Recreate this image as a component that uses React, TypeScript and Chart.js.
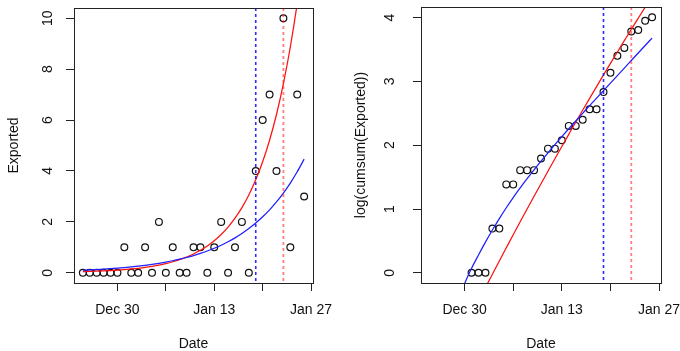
import React, { useEffect, useRef } from 'react';
import { Chart, registerables } from 'chart.js';

Chart.register(...registerables);

// ---------- data ----------
const ORIGIN = '2019-12-30';

const dates = [
  '2019-12-25', '2019-12-26', '2019-12-27', '2019-12-28', '2019-12-29', '2019-12-30',
  '2019-12-31', '2020-01-01', '2020-01-02', '2020-01-03', '2020-01-04', '2020-01-05',
  '2020-01-06', '2020-01-07', '2020-01-08', '2020-01-09', '2020-01-10', '2020-01-11',
  '2020-01-12', '2020-01-13', '2020-01-14', '2020-01-15', '2020-01-16', '2020-01-17',
  '2020-01-18', '2020-01-19', '2020-01-20', '2020-01-21', '2020-01-22', '2020-01-23',
  '2020-01-24', '2020-01-25', '2020-01-26',
];

const exported = [
  0, 0, 0, 0, 0, 0, 1, 0, 0, 1, 0, 2, 0, 1, 0, 0, 1, 1, 0, 1, 2, 0, 1, 2, 0, 4, 6, 7, 4, 10, 1, 7, 3,
];

const logCumExported = [
  null, null, null, null, null, null,
  0, 0, 0, 0.693, 0.693, 1.386, 1.386, 1.609, 1.609, 1.609, 1.792, 1.946, 1.946, 2.079,
  2.303, 2.303, 2.398, 2.565, 2.565, 2.833, 3.135, 3.401, 3.526, 3.784, 3.807, 3.951, 4.007,
];

// fitted curves (one value per date)
const fitRedLeft = [
  0.043, 0.052, 0.062, 0.074, 0.088, 0.105, 0.125, 0.150, 0.179, 0.213, 0.255, 0.304,
  0.363, 0.434, 0.518, 0.619, 0.739, 0.883, 1.054, 1.259, 1.503, 1.795, 2.144, 2.560,
  3.057, 3.651, 4.360, 5.207, 6.218, 7.426, 8.868, 10.59, 12.65,
];
const fitBlueLeft = [
  0.102, 0.115, 0.130, 0.146, 0.164, 0.185, 0.208, 0.234, 0.263, 0.296, 0.333, 0.375,
  0.422, 0.474, 0.534, 0.601, 0.676, 0.760, 0.856, 0.963, 1.083, 1.219, 1.372, 1.543,
  1.737, 1.954, 2.199, 2.474, 2.784, 3.133, 3.525, 3.967, 4.464,
];
const fitRedRight = [
  null, null, null, null, null, null, null, null,
  -0.231, -0.022, 0.186, 0.392, 0.597, 0.799, 1.0, 1.199, 1.397, 1.593, 1.787, 1.98,
  2.171, 2.361, 2.548, 2.734, 2.919, 3.102, 3.283, 3.462, 3.640, 3.817, 3.991, 4.164, 4.335,
];
const fitBlueRight = [
  null, null, null, null, -0.45,
  -0.17, 0.07, 0.28, 0.48, 0.67, 0.85, 1.02, 1.18, 1.33, 1.475, 1.615, 1.75, 1.88, 2.008,
  2.134, 2.258, 2.38, 2.50, 2.62, 2.738, 2.856, 2.974, 3.092, 3.21, 3.328, 3.446, 3.564, 3.68,
];

const xTickDates = ['2019-12-30', '2020-01-06', '2020-01-13', '2020-01-20', '2020-01-27'];
const xTickLabels = ['Dec 30', '', 'Jan 13', '', 'Jan 27'];
const yTicksLeft = [0, 2, 4, 6, 8, 10];
const yTicksRight = [0, 1, 2, 3, 4];
const blueLineDate = '2020-01-19';
const redLineDate = '2020-01-23';

// ---------- helpers ----------
const dayMs = 86400000;
const dayOf = (s: string) =>
  (Date.parse(s + 'T00:00:00Z') - Date.parse(ORIGIN + 'T00:00:00Z')) / dayMs;

const rRange = (lo: number, hi: number) => {
  const e = (hi - lo) * 0.04;
  return [lo - e, hi + e];
};

const FONT = '"Liberation Sans", Arial, Helvetica, sans-serif';
const AXIS = '#222';
const TEXT = '#111';

const series = (vals: (number | null)[]) =>
  dates.map((d, i) => ({ x: dayOf(d), y: vals[i] }));

const alignPx = (p: number) => Math.round(p - 0.5) + 0.5;

const boxPlugin = {
  id: 'rbox',
  afterDraw(chart: any) {
    const { ctx, chartArea: a } = chart;
    ctx.save();
    ctx.strokeStyle = AXIS;
    ctx.lineWidth = 1;
    const l = alignPx(a.left), r = alignPx(a.right), t = alignPx(a.top), b = alignPx(a.bottom);
    ctx.strokeRect(l, t, r - l, b - t);
    ctx.restore();
  },
};

const vlineStyles = [
  { date: blueLineDate, color: 'rgba(20,20,255,0.9)', width: 1.6 },
  { date: redLineDate, color: 'rgba(255,40,40,0.6)', width: 1.8 },
];

const vlinePlugin = {
  id: 'vlines',
  afterDatasetsDraw(chart: any) {
    const { ctx, chartArea: a, scales } = chart;
    ctx.save();
    ctx.beginPath();
    ctx.rect(a.left, a.top, a.right - a.left, a.bottom - a.top);
    ctx.clip();
    vlineStyles.forEach((v) => {
      const x = scales.x.getPixelForValue(dayOf(v.date));
      ctx.beginPath();
      ctx.setLineDash([3, 3]);
      ctx.strokeStyle = v.color;
      ctx.lineWidth = v.width;
      ctx.moveTo(x, a.top);
      ctx.lineTo(x, a.bottom);
      ctx.stroke();
    });
    ctx.restore();
  },
};

type Panel = {
  boxLeft: number;
  padRight: number;
  padTop: number;
  bottomH: number;
  yTickPad: number;
  yTitlePad: number;
  yLabel: string;
  yTicks: number[];
  yLim: number[];
  points: (number | null)[];
  red: (number | null)[];
  blue: (number | null)[];
};

const xLim = rRange(dayOf(dates[0]), dayOf(dates[dates.length - 1]));

const LEFT: Panel = {
  boxLeft: 74, padRight: 27, padTop: 8, bottomH: 68, yTickPad: 10.2, yTitlePad: 7.5,
  yLabel: 'Exported', yTicks: yTicksLeft, yLim: rRange(0, 10),
  points: exported, red: fitRedLeft, blue: fitBlueLeft,
};
const RIGHT: Panel = {
  boxLeft: 81, padRight: 19, padTop: 7, bottomH: 68, yTickPad: 19, yTitlePad: 13.8,
  yLabel: 'log(cumsum(Exported))', yTicks: yTicksRight, yLim: rRange(0, 4.007),
  points: logCumExported, red: fitRedRight, blue: fitBlueRight,
};

function makeChart(canvas: HTMLCanvasElement, p: Panel) {
  const curve = (vals: (number | null)[], color: string) => ({
    type: 'line' as const,
    data: series(vals),
    borderColor: color,
    borderWidth: 1.25,
    pointRadius: 0,
    fill: false,
    cubicInterpolationMode: 'monotone' as const,
    spanGaps: false,
  });
  return new Chart(canvas, {
    type: 'line',
    data: {
      datasets: [
        curve(p.blue, '#1E1EFF'),
        curve(p.red, '#FF1010'),
        {
          type: 'line',
          data: series(p.points).filter((o) => o.y !== null),
          showLine: false,
          pointRadius: 3.4,
          pointBorderWidth: 1.2,
          pointBackgroundColor: 'rgba(0,0,0,0)',
          pointBorderColor: '#111',
          borderColor: '#111',
        } as any,
      ],
    },
    options: {
      animation: false,
      responsive: false,
      maintainAspectRatio: false,
      events: [],
      layout: { padding: { left: 0, top: p.padTop, right: p.padRight, bottom: 0 } },
      plugins: { legend: { display: false }, tooltip: { enabled: false } },
      scales: {
        x: {
          type: 'linear',
          min: xLim[0],
          max: xLim[1],
          afterBuildTicks: (s: any) => {
            s.ticks = xTickDates.map((d) => ({ value: dayOf(d) }));
          },
          afterFit: (s: any) => {
            s.height = p.bottomH;
            s.paddingLeft = 0;
            s.paddingRight = 0;
          },
          ticks: {
            autoSkip: false,
            minRotation: 0,
            maxRotation: 0,
            padding: 11,
            color: TEXT,
            font: { family: FONT, size: 14 },
            callback: (_v: any, i: number) => xTickLabels[i],
          },
          grid: { drawOnChartArea: false, drawTicks: true, tickLength: 8, color: AXIS, lineWidth: 1 },
          border: { display: false },
          title: {
            display: true,
            text: 'Date',
            color: TEXT,
            font: { family: FONT, size: 14, lineHeight: 1 },
            padding: 0,
          },
        },
        y: {
          type: 'linear',
          min: p.yLim[0],
          max: p.yLim[1],
          afterBuildTicks: (s: any) => {
            s.ticks = p.yTicks.map((v) => ({ value: v }));
          },
          afterFit: (s: any) => {
            s.width = p.boxLeft;
            s.paddingTop = 0;
            s.paddingBottom = 0;
          },
          ticks: {
            minRotation: 90,
            maxRotation: 90,
            crossAlign: 'center',
            padding: p.yTickPad,
            color: TEXT,
            font: { family: FONT, size: 14 },
            callback: (v: any) => String(v),
          },
          grid: { drawOnChartArea: false, drawTicks: true, tickLength: 8, color: AXIS, lineWidth: 1 },
          border: { display: false },
          title: {
            display: true,
            text: p.yLabel,
            color: TEXT,
            font: { family: FONT, size: 14, lineHeight: 1 },
            padding: { top: p.yTitlePad, bottom: 0 },
          },
        },
      },
    } as any,
    plugins: [boxPlugin, vlinePlugin],
  });
}

export default function App() {
  const leftRef = useRef<HTMLCanvasElement>(null);
  const rightRef = useRef<HTMLCanvasElement>(null);
  useEffect(() => {
    const a = makeChart(leftRef.current as HTMLCanvasElement, LEFT);
    const b = makeChart(rightRef.current as HTMLCanvasElement, RIGHT);
    return () => {
      a.destroy();
      b.destroy();
    };
  }, []);
  return (
    <div style={{ position: 'absolute', left: 0, top: 0, width: 680, height: 351, background: '#fff' }}>
      <canvas ref={leftRef} width={340} height={351} style={{ position: 'absolute', left: 0, top: 0 }} />
      <canvas ref={rightRef} width={340} height={351} style={{ position: 'absolute', left: 340, top: 0 }} />
    </div>
  );
}
